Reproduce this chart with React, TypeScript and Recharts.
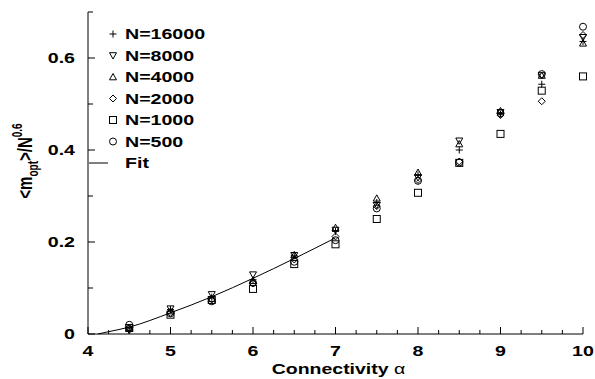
import React from 'react';
import { ComposedChart, Scatter, Line, XAxis, YAxis, Legend, Label } from 'recharts';

// ---- data ----
const ALPHA = [4.5, 5, 5.5, 6, 6.5, 7, 7.5, 8, 8.5, 9, 9.5, 10];

const N16000 = [0.013, 0.053, 0.08, 0.118, 0.17, 0.223, 0.286, 0.346, 0.4, 0.478, 0.543, 0.636];
const N8000 = [0.008, 0.055, 0.086, 0.129, 0.171, 0.226, 0.28, 0.34, 0.42, 0.482, 0.562, 0.645];
const N4000 = [0.014, 0.05, 0.077, 0.116, 0.172, 0.231, 0.295, 0.351, 0.413, 0.485, 0.562, 0.632];
const N2000 = [0.014, 0.046, 0.075, 0.11, 0.162, 0.212, 0.278, 0.335, 0.375, 0.476, 0.506, 0.65];
const N1000 = [0.013, 0.042, 0.074, 0.098, 0.152, 0.195, 0.25, 0.307, 0.372, 0.435, 0.529, 0.56];
const N500 = [0.02, 0.045, 0.071, 0.111, 0.157, 0.204, 0.273, 0.333, 0.373, 0.48, 0.565, 0.668];

const FIT_X = [4.12, 4.25, 4.5, 5, 5.5, 6, 6.5, 7];
const FIT_Y = [0, 0.005, 0.015, 0.046, 0.081, 0.121, 0.164, 0.209];

const X_TICKS = [
  4, 4.25, 4.5, 4.75, 5, 5.25, 5.5, 5.75, 6, 6.25, 6.5, 6.75, 7, 7.25, 7.5, 7.75, 8, 8.25, 8.5,
  8.75, 9, 9.25, 9.5, 9.75, 10,
];
const Y_TICKS = [0, 0.1, 0.2, 0.3, 0.4, 0.5, 0.6, 0.7];

const SERIES = [
  { name: 'N=16000', kind: 'plus', values: N16000 },
  { name: 'N=8000', kind: 'tdown', values: N8000 },
  { name: 'N=4000', kind: 'tup', values: N4000 },
  { name: 'N=2000', kind: 'diamond', values: N2000 },
  { name: 'N=1000', kind: 'square', values: N1000 },
  { name: 'N=500', kind: 'circle', values: N500 },
];

const FONT = '"Liberation Sans", Arial, sans-serif';
const STRETCH = 1.4;

// ---- markers ----
function Marker({ cx, cy, kind }: { cx: number; cy: number; kind: string }) {
  const s = 3.5;
  const st = { fill: 'none', stroke: '#000', strokeWidth: 1 };
  switch (kind) {
    case 'plus':
      return <path d={`M${cx - s},${cy}H${cx + s}M${cx},${cy - s}V${cy + s}`} {...st} />;
    case 'tdown':
      return <path d={`M${cx - s},${cy - s * 0.8}H${cx + s}L${cx},${cy + s}Z`} {...st} />;
    case 'tup':
      return <path d={`M${cx - s},${cy + s * 0.8}H${cx + s}L${cx},${cy - s}Z`} {...st} />;
    case 'diamond':
      return <path d={`M${cx},${cy - s}L${cx + s},${cy}L${cx},${cy + s}L${cx - s},${cy}Z`} {...st} />;
    case 'square':
      return <rect x={cx - s} y={cy - s} width={2 * s} height={2 * s} {...st} />;
    default:
      return <circle cx={cx} cy={cy} r={s} {...st} />;
  }
}

// ---- ticks (inward, on all four sides) ----
const label = (x: number, y: number, text: string, anchor: string) => (
  <text
    transform={`translate(${x},${y}) scale(${STRETCH},1)`}
    textAnchor={anchor}
    fontFamily={FONT}
    fontWeight="bold"
    fontSize={14}
    fill="#000"
  >
    {text}
  </text>
);

const isMajorX = (v: number) => Number.isInteger(v);
const isMajorY = (v: number) => Math.round(v * 10) % 2 === 0;

function BottomTick(props: any) {
  const { x, y, payload } = props;
  const major = isMajorX(payload.value);
  return (
    <g>
      <line x1={x} x2={x} y1={y} y2={y - (major ? 7 : 4)} stroke="#000" />
      {major && label(x, y + 22, String(payload.value), 'middle')}
    </g>
  );
}

function TopTick(props: any) {
  const { x, y, payload } = props;
  const major = isMajorX(payload.value);
  return <line x1={x} x2={x} y1={y} y2={y + (major ? 7 : 4)} stroke="#000" />;
}

function LeftTick(props: any) {
  const { x, y, payload } = props;
  const v = payload.value;
  const major = isMajorY(v);
  return (
    <g>
      <line x1={x} x2={x + (major ? 7 : 5)} y1={y} y2={y} stroke="#000" />
      {major && v < 0.7 && label(x - 13, y + 5, v === 0 ? '0' : v.toFixed(1), 'end')}
    </g>
  );
}

function RightTick(props: any) {
  const { x, y, payload } = props;
  const major = isMajorY(payload.value);
  return <line x1={x} x2={x - (major ? 7 : 5)} y1={y} y2={y} stroke="#000" />;
}

// ---- axis titles ----
function YTitle(props: any) {
  const { viewBox } = props;
  const cx = viewBox.x + 32;
  const cy = viewBox.y + viewBox.height / 2 - 12;
  return (
    <text
      transform={`translate(${cx},${cy}) scale(${STRETCH},1) rotate(-90)`}
      textAnchor="middle"
      fontFamily={FONT}
      fontWeight="bold"
      fontSize={15}
      fill="#000"
    >
      &lt;m
      <tspan dy={4} fontSize={10}>
        opt
      </tspan>
      <tspan dy={-4}>&gt;/N</tspan>
      <tspan dy={-7} fontSize={10}>
        0.6
      </tspan>
    </text>
  );
}

function XTitle(props: any) {
  const { viewBox } = props;
  const cx = viewBox.x + viewBox.width / 2 + 3;
  const cy = viewBox.y + 40;
  return (
    <text
      transform={`translate(${cx},${cy}) scale(1.3,1)`}
      textAnchor="middle"
      fontFamily={FONT}
      fontWeight="bold"
      fontSize={15}
      fill="#000"
    >
      Connectivity <tspan fontWeight="normal">α</tspan>
    </text>
  );
}

// ---- legend ----
function LegendBox() {
  const rowH = 21.5;
  return (
    <svg width={170} height={160} style={{ display: 'block' }}>
      {SERIES.map((s, i) => (
        <g key={s.name}>
          <Marker cx={27} cy={12 + i * rowH} kind={s.kind} />
          {label(39, 12 + i * rowH + 5, s.name, 'start')}
        </g>
      ))}
      <line x1={3} x2={22} y1={12 + 6 * rowH} y2={12 + 6 * rowH} stroke="#000" />
      {label(39, 12 + 6 * rowH + 5, 'Fit', 'start')}
    </svg>
  );
}

export default function App() {
  const fitData = FIT_X.map((x, i) => ({ x, y: FIT_Y[i] }));

  return (
    <div style={{ position: 'absolute', left: 0, top: 0, background: '#fff' }}>
      <ComposedChart width={595} height={379} margin={{ top: 12, right: 12, bottom: 0, left: 0 }}>
        <XAxis
          dataKey="x"
          type="number"
          domain={[4, 10]}
          ticks={X_TICKS}
          interval={0}
          height={45}
          tickLine={false}
          tickSize={0}
          tickMargin={0}
          tick={BottomTick}
          axisLine={{ stroke: '#000' }}
        >
          <Label content={XTitle} />
        </XAxis>
        <XAxis
          xAxisId="top"
          orientation="top"
          type="number"
          domain={[4, 10]}
          ticks={X_TICKS}
          interval={0}
          height={0}
          tickLine={false}
          tickSize={0}
          tickMargin={0}
          tick={TopTick}
          axisLine={{ stroke: '#000' }}
        />
        <YAxis
          dataKey="y"
          type="number"
          domain={[0, 0.7]}
          ticks={Y_TICKS}
          interval={0}
          width={88}
          tickLine={false}
          tickSize={0}
          tickMargin={0}
          tick={LeftTick}
          axisLine={{ stroke: '#000' }}
        >
          <Label content={YTitle} />
        </YAxis>
        <YAxis
          yAxisId="right"
          orientation="right"
          type="number"
          domain={[0, 0.7]}
          ticks={Y_TICKS}
          interval={0}
          width={0}
          tickLine={false}
          tickSize={0}
          tickMargin={0}
          tick={RightTick}
          axisLine={{ stroke: '#000' }}
        />
        <Legend
          layout="horizontal"
          verticalAlign="middle"
          align="center"
          content={LegendBox}
          wrapperStyle={{ left: 86, top: 22, width: 170, height: 160 }}
        />
        {SERIES.map((s) => (
          <Scatter
            key={s.name}
            name={s.name}
            data={ALPHA.map((x, i) => ({ x, y: s.values[i] }))}
            isAnimationActive={false}
            shape={(p: any) => <Marker cx={p.cx} cy={p.cy} kind={s.kind} />}
          />
        ))}
        <Line
          data={fitData}
          dataKey="y"
          type="monotone"
          dot={false}
          stroke="#000"
          strokeWidth={1}
          isAnimationActive={false}
          legendType="none"
        />
      </ComposedChart>
    </div>
  );
}
